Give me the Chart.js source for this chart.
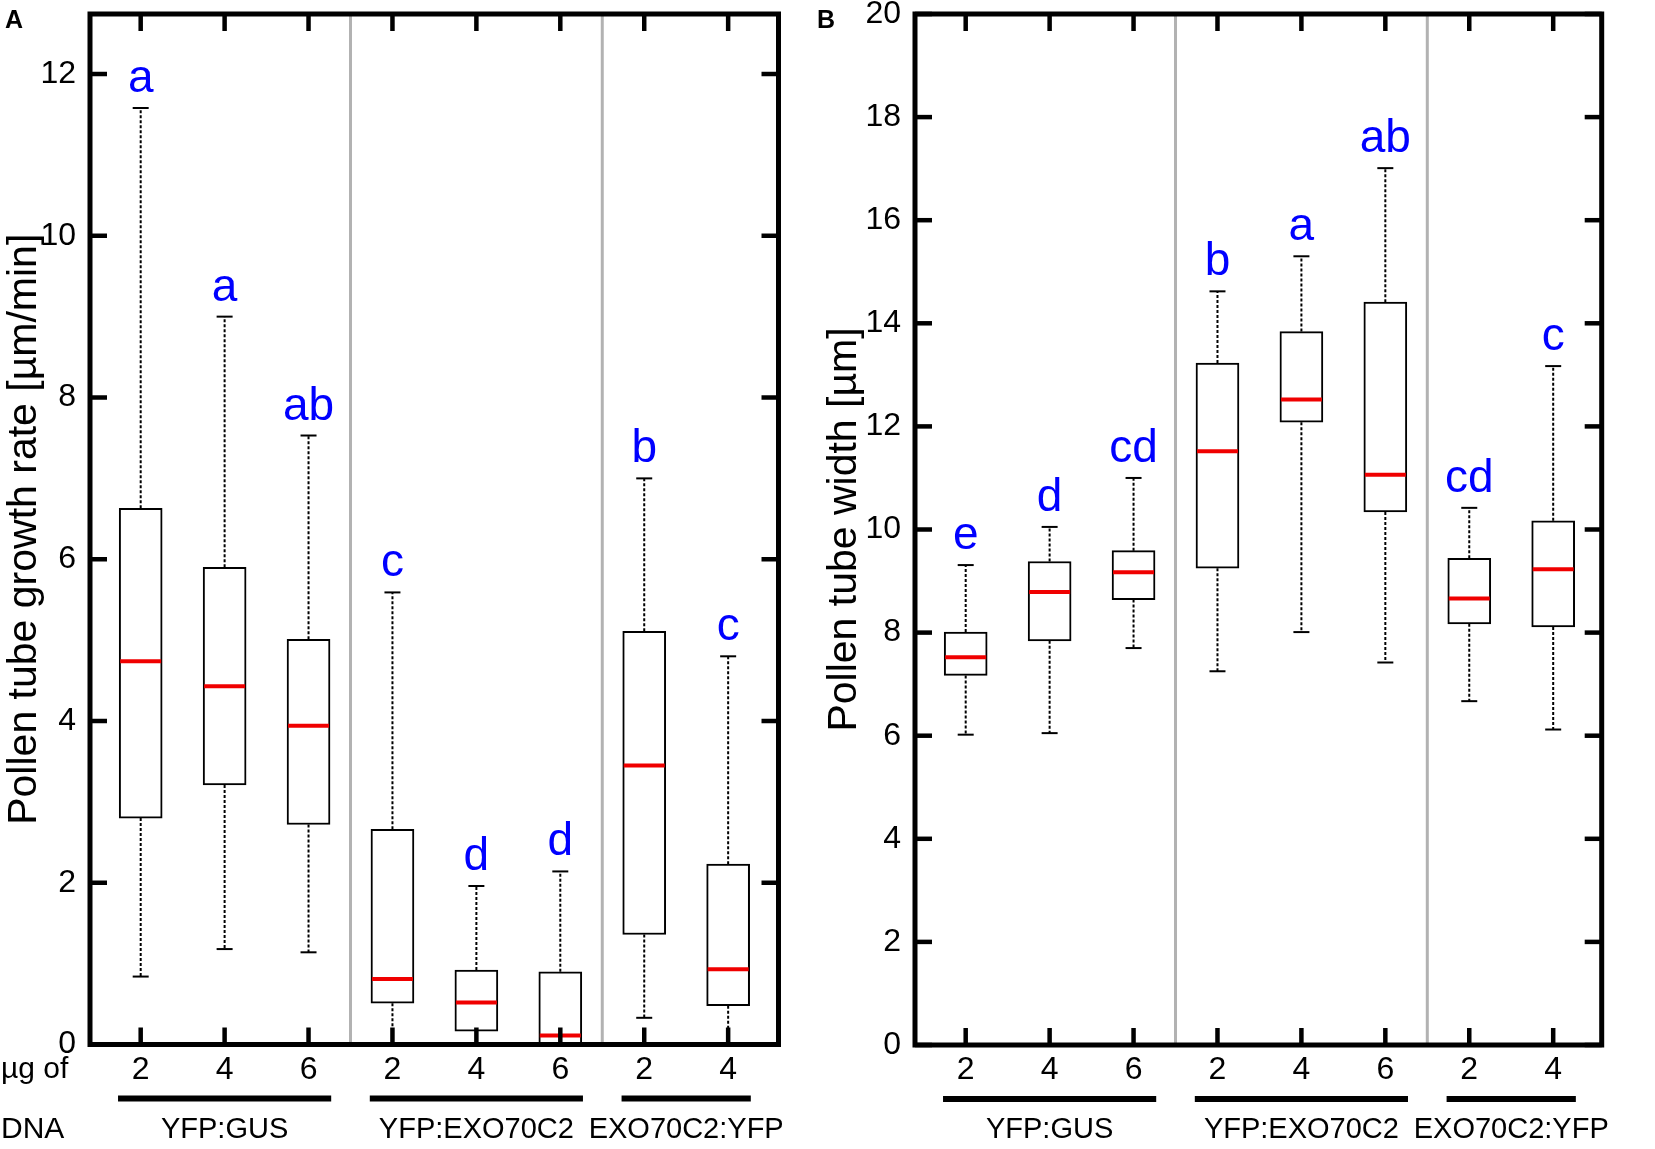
<!DOCTYPE html>
<html>
<head>
<meta charset="utf-8">
<title>Pollen tube growth rate and width</title>
<script src="https://cdn.jsdelivr.net/npm/chart.js@4.4.1/dist/chart.umd.min.js"></script>
<style>
  html, body { margin: 0; padding: 0; background: #fff; }
  #wrap { position: relative; width: 1655px; height: 1149px; overflow: hidden; }
  canvas { position: absolute; top: 0; }
  #rateChart { left: 0; }
  #widthChart { left: 800px; }
</style>
</head>
<body>
<div id="wrap">
  <canvas id="rateChart" width="800" height="1149"></canvas>
  <canvas id="widthChart" width="855" height="1149"></canvas>
</div>
<script>
const FONT = "'Liberation Sans', Arial, Helvetica, sans-serif";

// µg of DNA under each box, and the constructs they belong to
const dnaLabels = ['2', '4', '6', '2', '4', '6', '2', '4'];
const groupNames = ['YFP:GUS', 'YFP:EXO70C2', 'EXO70C2:YFP'];
const groupFirst = [0, 3, 6];
const groupLast = [2, 5, 7];
const groupBreaks = [2.5, 5.5];

// A: pollen tube growth rate [µm/min]
const rateLow = [0.84, 1.18, 1.14, 0, 0, 0, 0.33, 0];
const rateQ1 = [2.80, 3.21, 2.72, 0.51, 0.165, 0, 1.36, 0.48];
const rateMedian = [4.74, 4.43, 3.94, 0.81, 0.52, 0.11, 3.45, 0.93];
const rateQ3 = [6.63, 5.90, 5.01, 2.66, 0.92, 0.90, 5.11, 2.23];
const rateHigh = [11.58, 9.0, 7.53, 5.59, 1.96, 2.14, 7.0, 4.80];
const rateLetters = ['a', 'a', 'ab', 'c', 'd', 'd', 'b', 'c'];

// B: pollen tube width [µm]
const widthLow = [6.02, 6.05, 7.70, 7.25, 8.01, 7.42, 6.67, 6.12];
const widthQ1 = [7.17, 7.84, 8.64, 9.25, 12.08, 10.34, 8.17, 8.11];
const widthMedian = [7.52, 8.79, 9.17, 11.52, 12.52, 11.06, 8.66, 9.23];
const widthQ3 = [8.01, 9.38, 9.59, 13.23, 13.84, 14.41, 9.44, 10.17];
const widthHigh = [9.31, 10.05, 11.0, 14.62, 15.30, 17.01, 10.42, 13.17];
const widthLetters = ['e', 'd', 'cd', 'b', 'a', 'ab', 'cd', 'c'];

const BOX_WIDTH = 43;

function strokeLine(ctx, x1, y1, x2, y2) {
  ctx.beginPath();
  ctx.moveTo(x1, y1);
  ctx.lineTo(x2, y2);
  ctx.stroke();
}

// whiskers, medians, letters, frame with inward ticks, group bars
function boxDecor(p) {
  return {
    id: 'boxDecor',
    beforeDatasetsDraw(chart) {
      const { ctx, chartArea: area, scales: { x, y } } = chart;
      ctx.save();
      ctx.strokeStyle = '#b2b2b2';
      ctx.lineWidth = 3;
      groupBreaks.forEach((v) => {
        const px = x.getPixelForValue(v);
        strokeLine(ctx, px, area.top, px, area.bottom);
      });

      ctx.strokeStyle = '#000';
      ctx.lineWidth = 2;
      p.low.forEach((lo, i) => {
        const cx = x.getPixelForValue(i);
        ctx.setLineDash([3, 2]);
        strokeLine(ctx, cx, y.getPixelForValue(p.q3[i]), cx, y.getPixelForValue(p.high[i]));
        strokeLine(ctx, cx, y.getPixelForValue(p.q1[i]), cx, y.getPixelForValue(lo));
        ctx.setLineDash([]);
        [lo, p.high[i]].forEach((v) => {
          const py = y.getPixelForValue(v);
          strokeLine(ctx, cx - 8, py, cx + 8, py);
        });
      });
      ctx.restore();
    },
    afterDatasetsDraw(chart) {
      const { ctx, scales: { x, y } } = chart;
      ctx.save();
      ctx.strokeStyle = '#f00000';
      ctx.lineWidth = 4;
      p.median.forEach((m, i) => {
        const cx = x.getPixelForValue(i);
        const py = y.getPixelForValue(m);
        strokeLine(ctx, cx - BOX_WIDTH / 2 + 1, py, cx + BOX_WIDTH / 2 - 1, py);
      });

      ctx.fillStyle = '#0000ff';
      ctx.font = '46px ' + FONT;
      ctx.textAlign = 'center';
      ctx.textBaseline = 'alphabetic';
      p.letters.forEach((t, i) => {
        ctx.fillText(t, x.getPixelForValue(i), y.getPixelForValue(p.high[i]) - 16);
      });
      ctx.restore();
    },
    afterDraw(chart) {
      const { ctx, chartArea: area, scales: { x, y } } = chart;
      ctx.save();
      ctx.strokeStyle = '#000';
      ctx.lineWidth = 5;
      ctx.strokeRect(area.left, area.top, area.right - area.left, area.bottom - area.top);

      ctx.lineWidth = 4.5;
      y.ticks.forEach((t) => {
        const py = y.getPixelForValue(t.value);
        strokeLine(ctx, area.left, py, area.left + 17, py);
        strokeLine(ctx, area.right - 17, py, area.right, py);
      });
      x.ticks.forEach((t) => {
        const px = x.getPixelForValue(t.value);
        strokeLine(ctx, px, area.bottom, px, area.bottom - 17);
        strokeLine(ctx, px, area.top, px, area.top + 17);
      });

      ctx.lineWidth = 6;
      ctx.fillStyle = '#000';
      ctx.font = '29px ' + FONT;
      ctx.textAlign = 'center';
      ctx.textBaseline = 'middle';
      groupNames.forEach((name, g) => {
        const barY = area.bottom + 54;
        strokeLine(ctx, x.getPixelForValue(groupFirst[g] - 0.27), barY,
          x.getPixelForValue(groupLast[g] + 0.27), barY);
        ctx.fillText(name, x.getPixelForValue((groupFirst[g] + groupLast[g]) / 2), area.bottom + 85);
      });

      if (p.dnaCaption) {
        ctx.textAlign = 'left';
        ctx.font = '30px ' + FONT;
        ctx.fillText('µg of', 1, area.bottom + 25);
        ctx.fillText('DNA', 1, area.bottom + 85);
      }

      ctx.font = 'bold 25px ' + FONT;
      ctx.textAlign = 'left';
      ctx.textBaseline = 'alphabetic';
      ctx.fillText(p.panel, p.panelX, 28);
      ctx.restore();
    },
  };
}

function makePanel(id, p) {
  return new Chart(document.getElementById(id), {
    type: 'bar',
    data: {
      datasets: [{
        data: p.q1.map((q, i) => ({ x: i, y: [q, p.q3[i]] })),
        backgroundColor: '#fff',
        borderColor: '#000',
        borderWidth: 2,
        borderSkipped: false,
        barThickness: BOX_WIDTH,
      }],
    },
    options: {
      responsive: false,
      animation: false,
      layout: { padding: { left: 0, top: 14, right: p.padRight, bottom: 0 } },
      plugins: { legend: { display: false }, tooltip: { enabled: false } },
      scales: {
        x: {
          type: 'linear',
          offset: false,
          min: -0.604,
          max: p.xMax,
          grid: { display: false, drawTicks: false, offset: false },
          border: { display: false },
          ticks: {
            stepSize: 1,
            includeBounds: false,
            autoSkip: false,
            maxRotation: 0,
            padding: 6,
            color: '#000',
            font: { family: FONT, size: 32 },
            callback: (v) => dnaLabels[v],
          },
          afterFit: (sc) => {
            sc.height = p.xHeight;
            sc.paddingLeft = 0;
            sc.paddingRight = 0;
          },
        },
        y: {
          min: 0,
          max: p.yMax,
          grid: { display: false, drawTicks: false },
          border: { display: false },
          ticks: {
            stepSize: 2,
            includeBounds: false,
            padding: 14,
            color: '#000',
            font: { family: FONT, size: 32 },
          },
          title: {
            display: true,
            text: p.title,
            color: '#000',
            font: { family: FONT, size: 41 },
            padding: { top: p.titlePad, bottom: 0 },
          },
          afterFit: (sc) => {
            sc.width = p.yWidth;
            sc.paddingTop = 0;
            sc.paddingBottom = 0;
          },
        },
      },
    },
    plugins: [boxDecor(p)],
  });
}

makePanel('rateChart', {
  low: rateLow, q1: rateQ1, median: rateMedian, q3: rateQ3, high: rateHigh, letters: rateLetters,
  title: 'Pollen tube growth rate [µm/min]',
  yMax: 12.742, xMax: 7.60,
  yWidth: 90, xHeight: 104.5, padRight: 21.5, titlePad: 0,
  panel: 'A', panelX: 5, dnaCaption: true,
});

makePanel('widthChart', {
  low: widthLow, q1: widthQ1, median: widthMedian, q3: widthQ3, high: widthHigh, letters: widthLetters,
  title: 'Pollen tube width [µm]',
  yMax: 20, xMax: 7.578,
  yWidth: 115, xHeight: 104, padRight: 53.3, titlePad: 20,
  panel: 'B', panelX: 17, dnaCaption: false,
});
</script>
</body>
</html>
